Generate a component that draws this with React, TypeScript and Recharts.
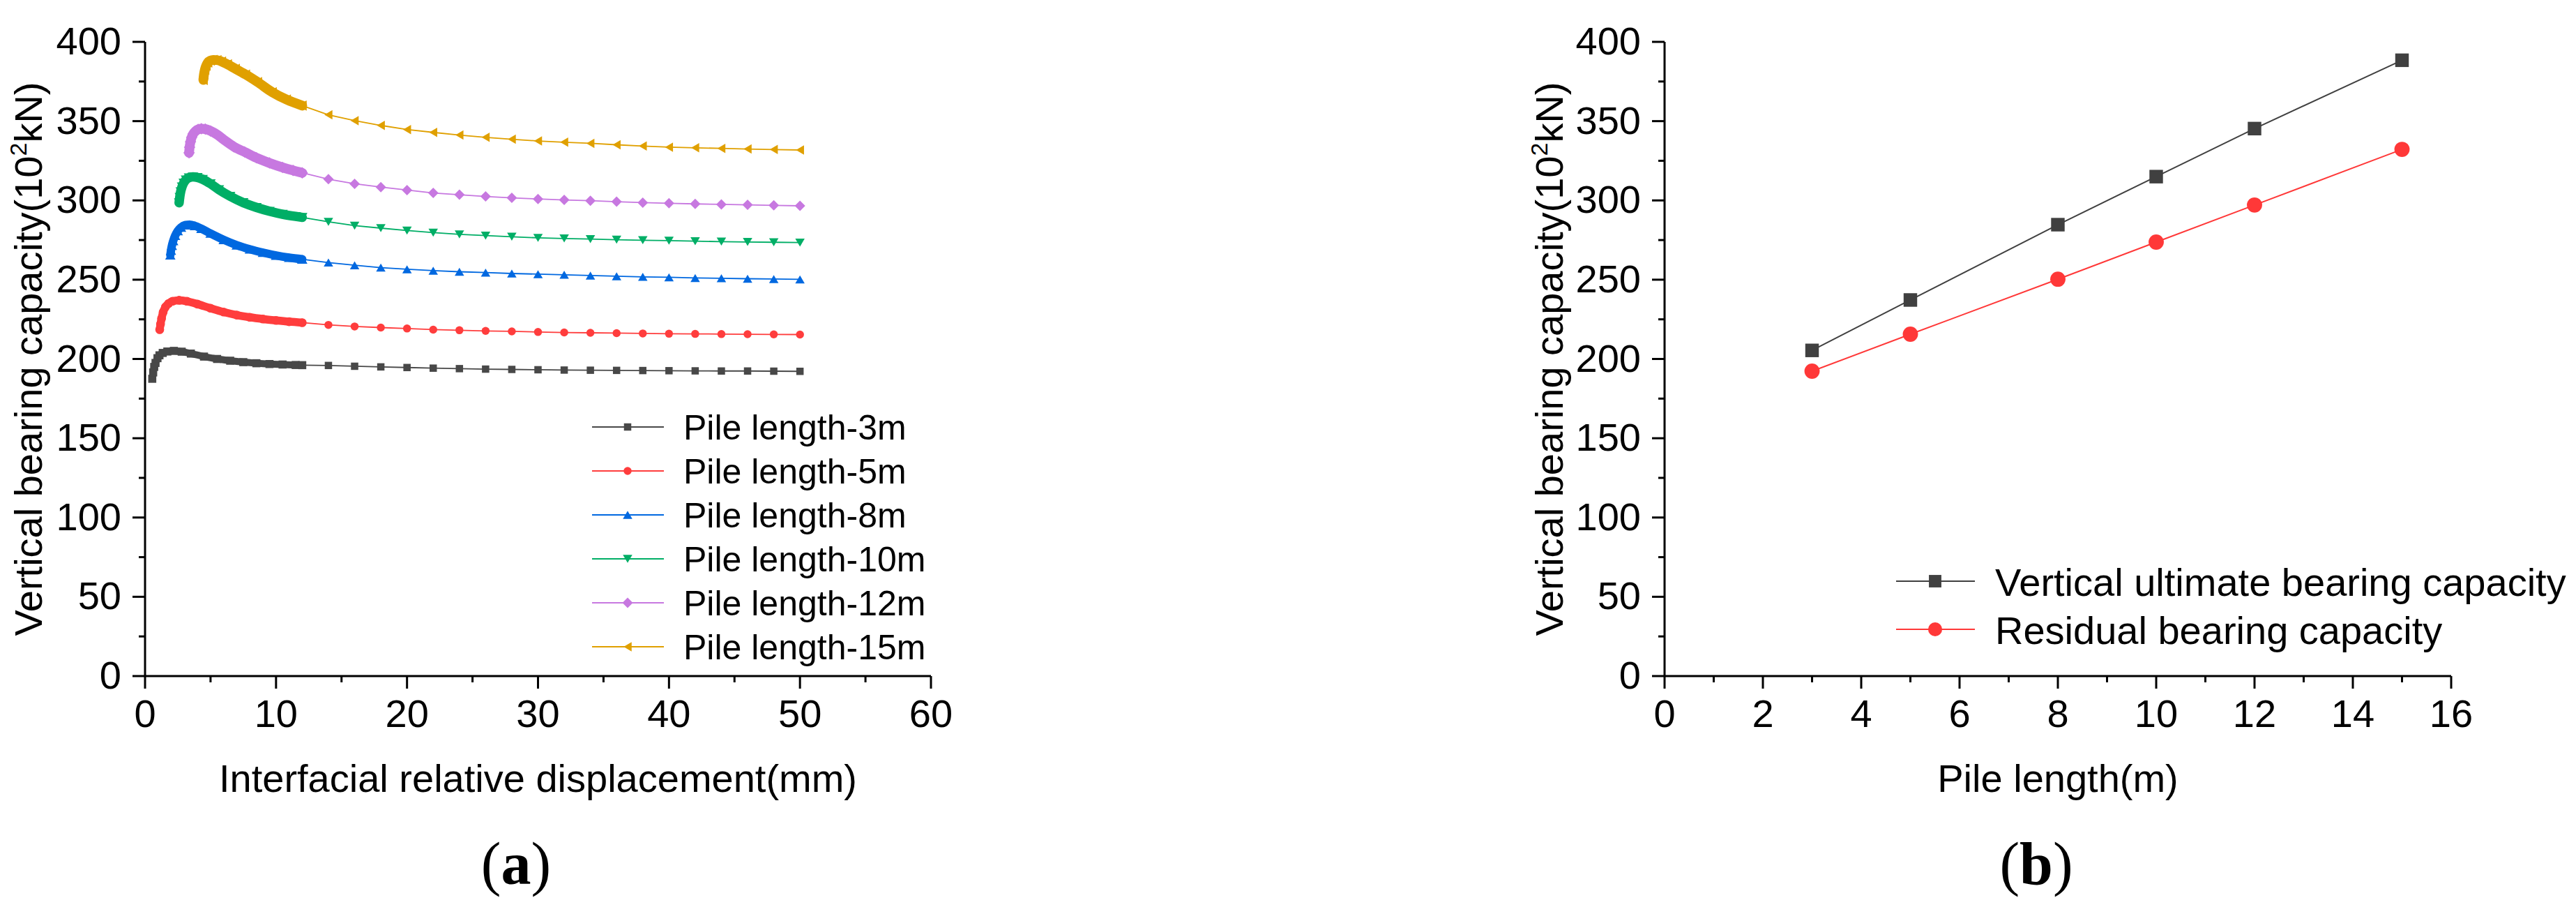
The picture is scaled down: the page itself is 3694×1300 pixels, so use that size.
import React from 'react';
import { LineChart, Line, XAxis, YAxis, Label } from 'recharts';

const FONT = '"Liberation Sans", Arial, Helvetica, sans-serif';
const SERIF = '"Liberation Serif", "Times New Roman", serif';

// ---------- Panel (a) data ----------
const pileNames = ['Pile length-3m', 'Pile length-5m', 'Pile length-8m', 'Pile length-10m', 'Pile length-12m', 'Pile length-15m'];
const pileColors = ['#484848', '#FF3D3D', '#0068E0', '#00AE66', '#C778E0', '#E0A000'];
const pileShapes = ['square', 'circle', 'triangleUp', 'triangleDown', 'diamond', 'triangleLeft'];

const denseX3 = [0.55, 0.62, 0.7, 0.8, 0.95, 1.1, 1.35, 1.7, 2.2, 2.8, 3.5, 4.5, 5.5, 6.5, 7.5, 8.5, 9.5, 10.5, 11.5, 12.0];
const denseY3 = [187.5, 191.5, 195, 197.5, 200.5, 202.3, 203.8, 204.7, 205.1, 204.6, 203.4, 201.5, 200.0, 198.9, 198.0, 197.3, 196.8, 196.5, 196.2, 196.1];

const denseX5 = [1.12, 1.18, 1.26, 1.38, 1.56, 1.8, 2.1, 2.6, 3.2, 4.0, 5.0, 6.0, 7.0, 8.0, 9.0, 10.0, 11.0, 12.0];
const denseY5 = [218.5, 222, 225.5, 229.5, 232.8, 235, 236.4, 237, 236.4, 234.6, 232.0, 229.6, 227.7, 226.3, 225.2, 224.3, 223.5, 222.9];

const denseX8 = [1.93, 1.98, 2.05, 2.15, 2.3, 2.5, 2.75, 3.05, 3.4, 3.8, 4.3, 5.0, 6.0, 7.0, 8.0, 9.0, 10.0, 11.0, 12.0];
const denseY8 = [265.5, 268.5, 271.5, 274.5, 277.8, 280.8, 283, 284.4, 284.7, 284, 282.2, 279.2, 275.2, 271.8, 269.2, 267.1, 265.3, 263.9, 262.9];

const denseX10 = [2.6, 2.65, 2.72, 2.82, 2.95, 3.12, 3.35, 3.65, 4.0, 4.4, 5.0, 5.64, 6.5, 7.5, 8.5, 9.5, 10.5, 11.5, 12.0];
const denseY10 = [298.5, 302, 305.5, 308.5, 311, 313, 314.3, 314.8, 314.5, 313.3, 310.5, 306.8, 302.6, 298.6, 295.6, 293.2, 291.3, 289.9, 289.3];

const denseX12 = [3.36, 3.4, 3.47, 3.56, 3.68, 3.85, 4.05, 4.3, 4.6, 5.0, 5.5, 6.1, 6.8, 7.6, 8.5, 9.5, 10.5, 11.3, 12.0];
const denseY12 = [330, 333.5, 337, 339.8, 342, 343.7, 344.8, 345.2, 345, 343.8, 341.5, 337.8, 333.8, 330.6, 326.9, 323.6, 320.8, 318.9, 317.4];

const denseX15 = [4.45, 4.5, 4.57, 4.67, 4.8, 4.98, 5.2, 5.5, 5.85, 6.3, 6.9, 7.68, 8.6, 9.72, 10.8, 12.0];
const denseY15 = [376, 379.5, 382.5, 385, 387, 388.2, 388.6, 388.5, 387.6, 385.8, 383, 379.4, 374.6, 368.2, 363.6, 359.8];

const sparseX = [14, 16, 18, 20, 22, 24, 26, 28, 30, 32, 34, 36, 38, 40, 42, 44, 46, 48, 50];
const sparseY3 = [195.9, 195.4, 195.0, 194.6, 194.2, 193.9, 193.6, 193.4, 193.2, 193.0, 192.9, 192.8, 192.7, 192.6, 192.5, 192.4, 192.4, 192.3, 192.2];
const sparseY5 = [221.5, 220.5, 219.8, 219.2, 218.5, 218.1, 217.7, 217.4, 217.0, 216.7, 216.5, 216.3, 216.1, 215.9, 215.8, 215.7, 215.6, 215.5, 215.4];
const sparseY8 = [260.8, 259.1, 257.6, 256.6, 255.7, 255.0, 254.5, 253.9, 253.5, 253.1, 252.6, 252.2, 251.8, 251.5, 251.1, 250.9, 250.6, 250.4, 250.2];
const sparseY10 = [286.5, 284.1, 282.5, 281.0, 279.7, 278.6, 277.8, 277.1, 276.4, 276.0, 275.6, 275.2, 274.9, 274.6, 274.3, 274.0, 273.8, 273.6, 273.4];
const sparseY12 = [313.4, 310.5, 308.4, 306.5, 304.7, 303.6, 302.5, 301.6, 300.9, 300.3, 299.8, 299.2, 298.6, 298.2, 297.8, 297.5, 297.2, 296.9, 296.6];
const sparseY15 = [354.0, 350.3, 347.3, 344.7, 342.9, 341.2, 339.8, 338.6, 337.5, 336.7, 336.0, 335.1, 334.3, 333.6, 333.2, 332.8, 332.4, 332.1, 331.8];

const xTicksA = [0, 5, 10, 15, 20, 25, 30, 35, 40, 45, 50, 55, 60];
const yTicks = [0, 25, 50, 75, 100, 125, 150, 175, 200, 225, 250, 275, 300, 325, 350, 375, 400];

// ---------- Panel (b) data ----------
const pileLengths = [3, 5, 8, 10, 12, 15];
const ultimateCapacity = [205.4, 237.2, 284.7, 315.0, 345.3, 388.4];
const residualCapacity = [192.3, 215.6, 250.3, 273.7, 297.1, 332.2];
const seriesNamesB = ['Vertical ultimate bearing capacity', 'Residual bearing capacity'];
const seriesColorsB = ['#404040', '#FF3838'];
const xTicksB = [0, 1, 2, 3, 4, 5, 6, 7, 8, 9, 10, 11, 12, 13, 14, 15, 16];

// ---------- build series ----------
const zip = (xs: number[], ys: number[]) => xs.map((x, i) => ({ x, y: ys[i] }));
const denseXs = [denseX3, denseX5, denseX8, denseX10, denseX12, denseX15];
const denseYs = [denseY3, denseY5, denseY8, denseY10, denseY12, denseY15];
const sparseYs = [sparseY3, sparseY5, sparseY8, sparseY10, sparseY12, sparseY15];

const piles = pileNames.map((name, i) => {
  const dense = zip(denseXs[i], denseYs[i]);
  const last = dense[dense.length - 1];
  return {
    name,
    color: pileColors[i],
    shape: pileShapes[i],
    dense,
    sparse: [last, ...zip(sparseX, sparseYs[i])],
  };
});

const seriesB = [
  { name: seriesNamesB[0], color: seriesColorsB[0], shape: 'square', data: zip(pileLengths, ultimateCapacity) },
  { name: seriesNamesB[1], color: seriesColorsB[1], shape: 'circle', data: zip(pileLengths, residualCapacity) },
];

// ---------- marker styles ----------
const markerDims: Record<string, [number, number]> = {
  square: [10.5, 10.5],
  circle: [11.5, 11.5],
  triangleUp: [13.5, 11.5],
  triangleDown: [13.5, 11.5],
  diamond: [15, 15],
  triangleLeft: [11.5, 13.5],
};
const bandWidth: Record<string, number> = {
  square: 10, circle: 11.5, triangleUp: 12, triangleDown: 13.5, diamond: 14, triangleLeft: 14,
};

function Marker({ cx, cy, shape, color, scale = 1 }: { cx: number; cy: number; shape: string; color: string; scale?: number }) {
  if (cx == null || cy == null || isNaN(cx) || isNaN(cy)) return null;
  const [w0, h0] = markerDims[shape];
  const w = w0 * scale;
  const h = h0 * scale;
  switch (shape) {
    case 'square':
      return <rect x={cx - w / 2} y={cy - h / 2} width={w} height={h} fill={color} />;
    case 'circle':
      return <circle cx={cx} cy={cy} r={w / 2} fill={color} />;
    case 'triangleUp':
      return <polygon points={`${cx},${cy - h / 2} ${cx + w / 2},${cy + h / 2} ${cx - w / 2},${cy + h / 2}`} fill={color} />;
    case 'triangleDown':
      return <polygon points={`${cx},${cy + h / 2} ${cx + w / 2},${cy - h / 2} ${cx - w / 2},${cy - h / 2}`} fill={color} />;
    case 'diamond':
      return <polygon points={`${cx},${cy - h / 2} ${cx + w / 2},${cy} ${cx},${cy + h / 2} ${cx - w / 2},${cy}`} fill={color} />;
    case 'triangleLeft':
      return <polygon points={`${cx - w / 2},${cy} ${cx + w / 2},${cy - h / 2} ${cx + w / 2},${cy + h / 2}`} fill={color} />;
    default:
      return null;
  }
}

const makeDot = (shape: string, color: string, scale = 1) => (p: any) => (
  <g key={`dot-${p.index}`}>
    <Marker cx={p.cx} cy={p.cy} shape={shape} color={color} scale={scale} />
  </g>
);

// ---------- axis ticks ----------
const AXIS_Y = 969;
const TICK_FONT = 56;

const makeXTick = (majorEvery: number) => (props: any) => {
  const { x, payload } = props;
  const v = payload.value;
  const major = v % majorEvery === 0;
  return (
    <g>
      <line x1={x} x2={x} y1={AXIS_Y} y2={AXIS_Y + (major ? 18 : 9)} stroke="#000" strokeWidth={3} />
      {major && (
        <text x={x} y={AXIS_Y + 73} textAnchor="middle" fontSize={TICK_FONT} fontFamily={FONT} fill="#000">
          {v}
        </text>
      )}
    </g>
  );
};

const makeYTick = (axisX: number) => (props: any) => {
  const { y, payload } = props;
  const v = payload.value;
  const major = v % 50 === 0;
  return (
    <g>
      <line x1={axisX} x2={axisX - (major ? 18 : 9)} y1={y} y2={y} stroke="#000" strokeWidth={3} />
      {major && (
        <text x={axisX - 34} y={y + 18} textAnchor="end" fontSize={TICK_FONT} fontFamily={FONT} fill="#000">
          {v}
        </text>
      )}
    </g>
  );
};

const xTitle = (text: string) => (props: any) => {
  const vb = props.viewBox;
  return (
    <text x={vb.x + vb.width / 2} y={vb.y + 166} textAnchor="middle" fontSize={56} fontFamily={FONT} fill="#000">
      {text}
    </text>
  );
};

const yTitle = (baselineX: number) => (props: any) => {
  const vb = props.viewBox;
  const cx = vb.x + baselineX;
  const cy = vb.y + vb.height / 2;
  return (
    <text
      x={cx}
      y={cy}
      transform={`rotate(-90 ${cx} ${cy})`}
      textAnchor="middle"
      fontSize={56}
      fontFamily={FONT}
      fill="#000"
    >
      Vertical bearing capacity(10
      <tspan fontSize={34} dy={-22}>2</tspan>
      <tspan dy={22}>kN)</tspan>
    </text>
  );
};

// ---------- charts ----------
function ChartA() {
  return (
    <LineChart width={1400} height={1300} margin={{ top: 60, right: 65, bottom: 0, left: 0 }}>
      <XAxis
        type="number"
        dataKey="x"
        domain={[0, 60]}
        ticks={xTicksA}
        interval={0}
        height={331}
        tickLine={false}
        tick={makeXTick(10)}
        axisLine={{ stroke: '#000', strokeWidth: 3 }}
        allowDataOverflow
      >
        <Label content={xTitle('Interfacial relative displacement(mm)')} />
      </XAxis>
      <YAxis
        type="number"
        domain={[0, 400]}
        ticks={yTicks}
        interval={0}
        width={208}
        tickLine={false}
        tick={makeYTick(208)}
        axisLine={{ stroke: '#000', strokeWidth: 3 }}
      >
        <Label content={yTitle(60)} />
      </YAxis>
      {piles.map((p, i) => (
        <Line
          key={`band-${i}`}
          id={`band-${i}`}
          data={p.dense}
          dataKey="y"
          type="monotone"
          stroke={p.color}
          strokeWidth={bandWidth[p.shape]}
          strokeLinecap="round"
          strokeLinejoin="round"
          dot={makeDot(p.shape, p.color, 1.1)}
          activeDot={false}
          legendType="none"
          isAnimationActive={false}
        />
      ))}
      {piles.map((p, i) => (
        <Line
          key={`tail-${i}`}
          id={`tail-${i}`}
          name={p.name}
          data={p.sparse}
          dataKey="y"
          type="linear"
          stroke={p.color}
          strokeWidth={1.8}
          dot={makeDot(p.shape, p.color)}
          activeDot={false}
          isAnimationActive={false}
        />
      ))}
    </LineChart>
  );
}

function ChartB() {
  return (
    <LineChart width={1450} height={1300} margin={{ top: 60, right: 85, bottom: 0, left: 0 }}>
      <XAxis
        type="number"
        dataKey="x"
        domain={[0, 16]}
        ticks={xTicksB}
        interval={0}
        height={331}
        tickLine={false}
        tick={makeXTick(2)}
        axisLine={{ stroke: '#000', strokeWidth: 3 }}
      >
        <Label content={xTitle('Pile length(m)')} />
      </XAxis>
      <YAxis
        type="number"
        domain={[0, 400]}
        ticks={yTicks}
        interval={0}
        width={237}
        tickLine={false}
        tick={makeYTick(237)}
        axisLine={{ stroke: '#000', strokeWidth: 3 }}
      >
        <Label content={yTitle(91)} />
      </YAxis>
      {seriesB.map((s, i) => (
        <Line
          key={`b-${i}`}
          id={`b-${i}`}
          name={s.name}
          data={s.data}
          dataKey="y"
          type="linear"
          stroke={s.color}
          strokeWidth={2}
          dot={makeDot(s.shape, s.color, s.shape === 'square' ? 1.85 : 1.9)}
          activeDot={false}
          isAnimationActive={false}
        />
      ))}
    </LineChart>
  );
}

function Overlay() {
  return (
    <svg width={3694} height={1300} style={{ position: 'absolute', left: 0, top: 0, pointerEvents: 'none' }}>
      {/* legend (a) */}
      {piles.map((p, i) => {
        const y = 612 + i * 63;
        return (
          <g key={`lga-${i}`}>
            <line x1={849} x2={952} y1={y} y2={y} stroke={p.color} strokeWidth={2} />
            <Marker cx={900} cy={y} shape={p.shape} color={p.color} />
            <text x={980} y={y + 18} fontSize={50} fontFamily={FONT} fill="#000">
              {p.name}
            </text>
          </g>
        );
      })}
      {/* legend (b) */}
      {seriesB.map((s, i) => {
        const y = 833 + i * 69;
        return (
          <g key={`lgb-${i}`}>
            <line x1={2719} x2={2832} y1={y} y2={y} stroke={s.color} strokeWidth={2} />
            <Marker cx={2775} cy={y} shape={s.shape} color={s.color} scale={s.shape === 'square' ? 1.7 : 1.75} />
            <text x={2861} y={y + 21} fontSize={56} fontFamily={FONT} fill="#000">
              {s.name}
            </text>
          </g>
        );
      })}
      {/* panel captions */}
      <text x={740} y={1267} textAnchor="middle" fontSize={86} fontFamily={SERIF} fill="#000">
        (<tspan fontWeight="bold">a</tspan>)
      </text>
      <text x={2920} y={1267} textAnchor="middle" fontSize={86} fontFamily={SERIF} fill="#000">
        (<tspan fontWeight="bold">b</tspan>)
      </text>
    </svg>
  );
}

export default function App() {
  return (
    <div style={{ position: 'absolute', left: 0, top: 0, width: 3694, height: 1300, background: '#fff', overflow: 'hidden' }}>
      <div style={{ position: 'absolute', left: 0, top: 0 }}>
        <ChartA />
      </div>
      <div style={{ position: 'absolute', left: 2150, top: 0 }}>
        <ChartB />
      </div>
      <Overlay />
    </div>
  );
}
